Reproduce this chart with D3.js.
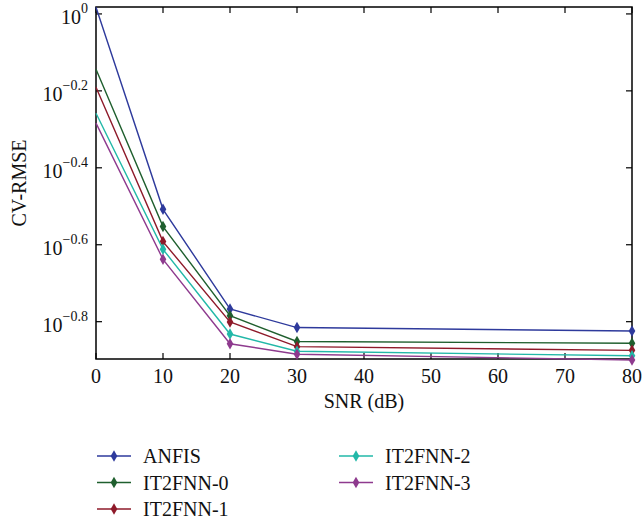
<!DOCTYPE html>
<html>
<head>
<meta charset="utf-8">
<script src="https://cdnjs.cloudflare.com/ajax/libs/d3/7.8.5/d3.min.js"></script>
<style>
  body { margin: 0; background: #fff; }
</style>
</head>
<body>
<div id="chart"></div>
<script>
// ---- data ----
var snr = [0, 10, 20, 30, 80];
var seriesNames = ["ANFIS", "IT2FNN-0", "IT2FNN-1", "IT2FNN-2", "IT2FNN-3"];
var seriesColors = ["#2e3a9c", "#1f5f2e", "#8e1a2a", "#22b8a8", "#8e3a8e"];
var anfis   = [1.041, 0.3105, 0.1710, 0.1530, 0.1499];
var it2fnn0 = [0.718, 0.280, 0.1643, 0.1408, 0.1393];
var it2fnn1 = [0.645, 0.256, 0.1582, 0.1365, 0.1335];
var it2fnn2 = [0.552, 0.2444, 0.1472, 0.1328, 0.1292];
var it2fnn3 = [0.520, 0.2302, 0.1389, 0.1304, 0.1260];
var xTicks = [0, 10, 20, 30, 40, 50, 60, 70, 80];
var yTickExps = ["0", "\u22120.2", "\u22120.4", "\u22120.6", "\u22120.8"];
var yTickLogs = [0, -0.2, -0.4, -0.6, -0.8];

var allSeries = [anfis, it2fnn0, it2fnn1, it2fnn2, it2fnn3];

var W = 643, H = 522;
var plot = { left: 96, right: 632, top: 7, bottom: 359 };
var serif = "'Liberation Serif', 'Times New Roman', 'DejaVu Serif', serif";

var svg = d3.select("#chart").append("svg")
  .attr("width", W).attr("height", H)
  .style("font-family", serif);

var x = d3.scaleLinear().domain([0, 80]).range([plot.left, plot.right]);
var y = d3.scaleLog().domain([Math.pow(10, -0.897), Math.pow(10, 0.018)])
  .range([plot.bottom, plot.top]);

// frame
svg.append("rect")
  .attr("x", plot.left).attr("y", plot.top)
  .attr("width", plot.right - plot.left).attr("height", plot.bottom - plot.top)
  .attr("fill", "none").attr("stroke", "#000").attr("stroke-width", 1.5);

// x ticks (bottom and top, inward)
xTicks.forEach(function(t) {
  svg.append("line").attr("x1", x(t)).attr("x2", x(t))
    .attr("y1", plot.bottom).attr("y2", plot.bottom - 6)
    .attr("stroke", "#000").attr("stroke-width", 1.2);
  svg.append("line").attr("x1", x(t)).attr("x2", x(t))
    .attr("y1", plot.top).attr("y2", plot.top + 6)
    .attr("stroke", "#000").attr("stroke-width", 1.2);
  svg.append("text").attr("x", x(t)).attr("y", 383)
    .attr("text-anchor", "middle").attr("font-family", serif)
    .style("font-size", "20px").attr("fill", "#111").text(t);
});

// y ticks
yTickLogs.forEach(function(l, i) {
  var yy = y(Math.pow(10, l));
  svg.append("line").attr("x1", plot.left).attr("x2", plot.left + 6)
    .attr("y1", yy).attr("y2", yy).attr("stroke", "#000").attr("stroke-width", 1.2);
  svg.append("line").attr("x1", plot.right).attr("x2", plot.right - 6)
    .attr("y1", yy).attr("y2", yy).attr("stroke", "#000").attr("stroke-width", 1.2);
  var t = svg.append("text").attr("x", plot.left - 8).attr("y", yy + 10)
    .attr("text-anchor", "end").attr("font-family", serif)
    .attr("fill", "#111").style("font-size", "20px");
  t.append("tspan").text("10");
  t.append("tspan").attr("dy", -11).style("font-size", "14px").text(yTickExps[i]);
});

// axis titles
svg.append("text").attr("x", (plot.left + plot.right) / 2).attr("y", 408)
  .attr("text-anchor", "middle").attr("font-family", serif).attr("fill", "#111")
  .style("font-size", "20px").text("SNR (dB)");
svg.append("text")
  .attr("transform", "translate(26," + ((plot.top + plot.bottom) / 2) + ") rotate(-90)")
  .attr("text-anchor", "middle").attr("font-family", serif).attr("fill", "#111")
  .style("font-size", "20px").text("CV-RMSE");

// lines + markers (no marker drawn on the y axis at SNR 0)
var line = d3.line().x(function(d, i) { return x(snr[i]); }).y(function(d) { return y(d); });
var diamond = d3.symbol().type(d3.symbolDiamond).size(38);

allSeries.forEach(function(s, k) {
  svg.append("path").datum(s).attr("d", line)
    .attr("fill", "none").attr("stroke", seriesColors[k]).attr("stroke-width", 1.4);
  var pts = s.map(function(v, i) { return { x: snr[i], v: v }; })
    .filter(function(d) { return d.x > 0; });
  svg.selectAll(".m" + k).data(pts).enter().append("path")
    .attr("class", "m" + k)
    .attr("d", diamond)
    .attr("transform", function(d) { return "translate(" + x(d.x) + "," + y(d.v) + ")"; })
    .attr("fill", seriesColors[k]);
});

// legend
var legendPos = [
  { x: 97, y: 456 }, { x: 97, y: 482.5 }, { x: 97, y: 509 },
  { x: 339, y: 456 }, { x: 339, y: 482.5 }
];
seriesNames.forEach(function(name, k) {
  var p = legendPos[k];
  svg.append("line").attr("x1", p.x).attr("x2", p.x + 34)
    .attr("y1", p.y).attr("y2", p.y)
    .attr("stroke", seriesColors[k]).attr("stroke-width", 1.4);
  svg.append("path").attr("d", diamond)
    .attr("transform", "translate(" + (p.x + 17) + "," + p.y + ")")
    .attr("fill", seriesColors[k]);
  svg.append("text").attr("x", p.x + 46).attr("y", p.y + 7)
    .attr("font-family", serif).attr("fill", "#111")
    .style("font-size", "20px").text(name);
});
</script>
</body>
</html>
